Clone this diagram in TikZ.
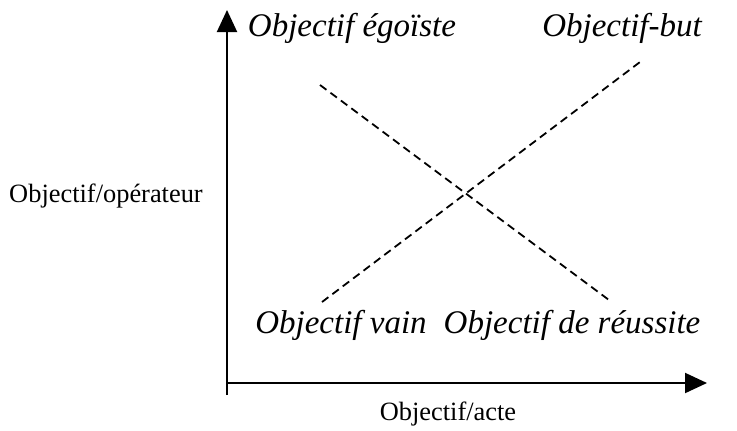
\documentclass[tikz,border=0pt]{standalone}
\usepackage{fontspec}
\setmainfont{Liberation Serif}
\usetikzlibrary{arrows.meta,positioning}
\tikzset{
  gl axis/.style={
    line width=1pt,
    -{Triangle[length=11pt,width=10pt]},
  },
  gl diag/.style={line width=0.9pt, dash pattern=on 4pt off 2.5pt},
  gl kind/.style={font=\fontsize{16.5}{19}\selectfont\itshape, inner sep=0pt},
  gl axis label/.style={font=\fontsize{13.2}{16}\selectfont, inner sep=0pt},
}

\begin{document}
\begin{tikzpicture}[x=0.5pt,y=-0.5pt]
  \useasboundingbox (0,0) rectangle (737,430);

  % axes
  \coordinate (origin) at (227,383);
  \coordinate (foot) at (227,395);
  \coordinate (ytip) at (227,10);
  \coordinate (xtip) at (707,383);
  \draw[gl axis] (foot) -- (ytip);
  \draw[gl axis] (origin) -- (xtip);

  \node[gl axis label] (operateur) at (106,196) {Objectif/opérateur};
  \node[gl axis label] (acte) at (448,414) {Objectif/acte};

  % the two diagonals
  \coordinate (ego) at (320,85);
  \coordinate (reussite) at (609,300);
  \coordinate (vain) at (322,302);
  \coordinate (but) at (640,62);
  \draw[gl diag] (ego) -- (reussite);
  \draw[gl diag] (vain) -- (but);

  \node[gl kind] (egoiste) at (352,28) {Objectif égoïste};
  \node[gl kind] (butlabel) at (622,28) {Objectif-but};
  \node[gl kind] (vainlabel) at (341,325) {Objectif vain};
  \node[gl kind] (reussitelabel) at (572,325) {Objectif de réussite};
\end{tikzpicture}
\end{document}
